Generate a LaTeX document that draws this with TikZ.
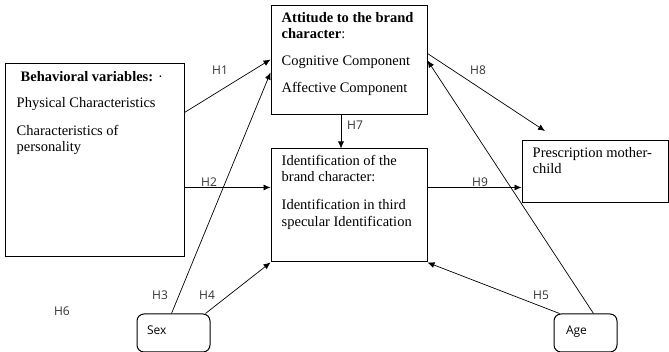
\documentclass[tikz,border=0pt]{standalone}
\usepackage{fontspec}
\setmainfont{Liberation Serif}
\newfontfamily\hypfont{Open Sans}
\usetikzlibrary{arrows.meta,positioning}

\begin{document}
\begin{tikzpicture}[x=1pt, y=-1pt,
    box/.style={shape=rectangle, draw=black, line width=1pt, inner sep=0pt},
    roundbox/.style={box, rounded corners=7pt, font=\hypfont\fontsize{12}{14}\selectfont, align=left, text depth=6pt},
    txt/.style={inner sep=0pt, align=left, font=\fontsize{14.5}{16.5}\selectfont},
    hyp/.style={inner sep=0pt, text=black!80, font=\hypfont\fontsize{12}{14}\selectfont},
    link/.style={-{Latex[length=7pt,width=6pt]}, line width=0.7pt}]

    \useasboundingbox (0,0) rectangle (669,352);

    \node[box, minimum width=179pt, minimum height=193pt] (Behav) at (94.5,160.5) {};
    \node[txt, below right=7.5pt and 12pt of Behav.north west] (BehavTxt) {
        \hspace{4pt}\textbf{Behavioral variables:} · \\[9.5pt]
        Physical Characteristics \\[11.5pt]
        Characteristics of \\
        personality
    };

    \node[box, minimum width=156pt, minimum height=109pt] (Attit) at (349,60.5) {};
    \node[txt, below right=6.5pt and 11pt of Attit.north west] (AttitTxt) {
        \textbf{Attitude to the brand} \\
        \textbf{character}: \\[10.5pt]
        Cognitive Component \\[10.5pt]
        Affective Component
    };

    \node[box, minimum width=156pt, minimum height=113pt] (Ident) at (349,205.5) {};
    \node[txt, below right=6.5pt and 11pt of Ident.north west] (IdentTxt) {
        Identification of the \\
        brand character: \\[11.5pt]
        Identification in third \\
        specular Identification
    };

    \node[box, minimum width=146pt, minimum height=62pt] (Presc) at (595,172) {};
    \node[txt, below right=6.5pt and 11pt of Presc.north west] (PrescTxt) {
        Prescription mother- \\
        child
    };

    \node[roundbox, inner xsep=10pt, text width=53pt, minimum height=38pt] (Sex) at (173.5,333) {Sex};
    \node[roundbox, inner xsep=12pt, text width=39pt, minimum height=38pt] (Age) at (585.5,333) {Age};

    \coordinate (PrescTip) at (545,131);

    % hypothesis labels
    \node[hyp] (LabH1) at (220,70) {H1};
    \node[hyp] (LabH2) at (209,182) {H2};
    \node[hyp] (LabH3) at (160,295) {H3};
    \node[hyp] (LabH4) at (207,295) {H4};
    \node[hyp] (LabH5) at (541,295) {H5};
    \node[hyp] (LabH6) at (62,311) {H6};
    \node[hyp] (LabH7) at (355,125) {H7};
    \node[hyp] (LabH8) at (478,70) {H8};
    \node[hyp] (LabH9) at (480,182) {H9};

    \path [link] ([yshift=-49pt]Behav.north east) edge ([yshift=-54pt]Attit.north west);
    \path [link] ([yshift=-124pt]Behav.north east) edge ([yshift=-39pt]Ident.north west);
    \path [link] ([xshift=-2pt]Sex.north) edge ([yshift=-67pt]Attit.north west);
    \path [link] ([xshift=-5pt]Sex.north east) edge (Ident.south west);
    \path [link] ([xshift=6pt]Age.north west) edge (Ident.south east);
    \path [link] ([xshift=8pt]Age.north) edge (Attit.east);
    \path [link] ([xshift=-8pt]Attit.south) edge ([xshift=-8pt]Ident.north);
    \path [link] ([yshift=-48pt]Attit.north east) edge (PrescTip);
    \path [link] ([yshift=-39pt]Ident.north east) edge ([yshift=-47pt]Presc.north west);

\end{tikzpicture}
\end{document}
